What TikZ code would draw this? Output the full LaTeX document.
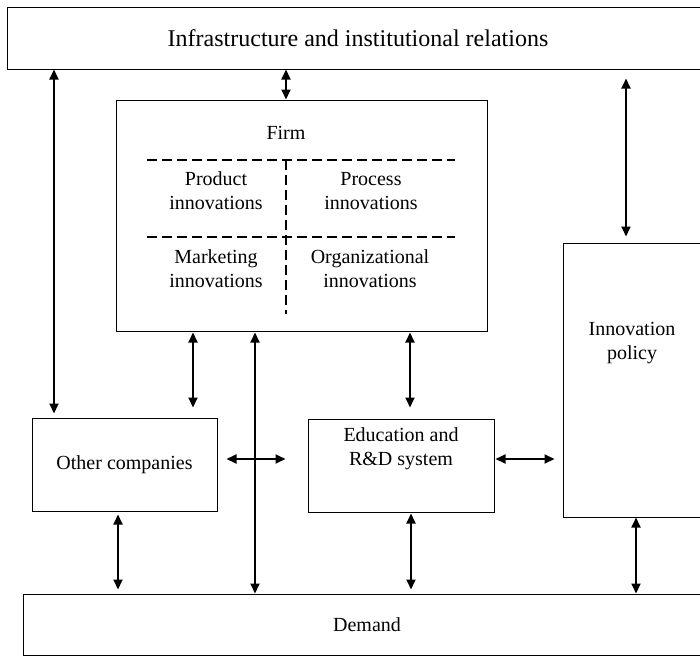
\documentclass[tikz,border=0pt]{standalone}
\usepackage{fontspec}
\setmainfont{Liberation Serif}
\usetikzlibrary{arrows.meta,positioning}
\begin{document}
\begin{tikzpicture}[x=1pt, y=-1pt,
        box/.style={draw, line width=1pt, inner sep=0pt, font=\fontsize{20}{24}\selectfont, align=center},
        txt/.style={inner sep=0pt, font=\fontsize{20}{24}\selectfont, align=center},
        link/.style={{Triangle[length=10pt,width=9pt]}-{Triangle[length=10pt,width=9pt]}, line width=1.8pt},
        divider/.style={line width=2.5pt, dash pattern=on 10pt off 5pt}]

        \useasboundingbox (0,0) rectangle (700,656);

        \node [box, minimum width=702pt, minimum height=62pt, font=\fontsize{24}{28}\selectfont] (infra) at (358,38) {Infrastructure and institutional relations};
        \node [box, minimum width=371pt, minimum height=231pt] (firm) at (301.5,215.5) {};
        \node [box, minimum width=185pt, minimum height=93pt] (other) at (124.5,464.5) {Other companies};
        \node [box, minimum width=186pt, minimum height=93pt] (edu) at (401,465.5) {};
        \node [box, minimum width=138pt, minimum height=274pt] (policy) at (632,380) {};
        \node [box, minimum width=688pt, minimum height=61pt] (demand) at (367,624.5) {Demand};

        \node [txt, below=9pt of edu.north] (edutxt) {Education and\\R\&D system};
        \node [txt, below=80pt of policy.north] (policytxt) {Innovation\\policy};

        \node [txt] (firmtxt) at (286,133) {Firm};
        \node [txt] (product) at (216,191) {Product\\innovations};
        \node [txt] (process) at (371,191) {Process\\innovations};
        \node [txt] (marketing) at (216,269) {Marketing\\innovations};
        \node [txt] (organ) at (370,269) {Organizational\\innovations};

        \draw [divider] (147,160) -- (455,160);
        \draw [divider] (147,237) -- (455,237);
        \draw [divider] (286,160) -- (286,314);

        \coordinate (xa) at (54,0);
        \coordinate (xb) at (286,0);
        \coordinate (xc) at (626,0);
        \coordinate (xd) at (193,0);
        \coordinate (xe) at (255,0);
        \coordinate (xf) at (410,0);
        \coordinate (xg) at (118,0);
        \coordinate (xh) at (411,0);
        \coordinate (xi) at (636,0);
        \coordinate (ya) at (0,459);

        \draw [link, shorten >=4pt] (infra.south -| xa) -- (other.north -| xa);
        \draw [link] (infra.south -| xb) -- (firm.north -| xb);
        \draw [link, shorten <=9pt, shorten >=6pt] (infra.south -| xc) -- (policy.north -| xc);
        \draw [link, shorten <=1pt, shorten >=10pt] (firm.south -| xd) -- (other.north -| xd);
        \draw [link, shorten <=1pt] (firm.south -| xe) -- (demand.north -| xe);
        \draw [link, shorten <=1pt, shorten >=11pt] (firm.south -| xf) -- (edu.north -| xf);
        \draw [link, shorten <=3pt, shorten >=4pt] (other.south -| xg) -- (demand.north -| xg);
        \draw [link, shorten <=1pt, shorten >=4pt] (edu.south -| xh) -- (demand.north -| xh);
        \draw [link] (policy.south -| xi) -- (demand.north -| xi);
        \draw [link, shorten <=9pt, shorten >=22pt] (other.east |- ya) -- (edu.west |- ya);
        \draw [link, shorten <=1pt, shorten >=8pt] (edu.east |- ya) -- (policy.west |- ya);

    \end{tikzpicture}
\end{document}
